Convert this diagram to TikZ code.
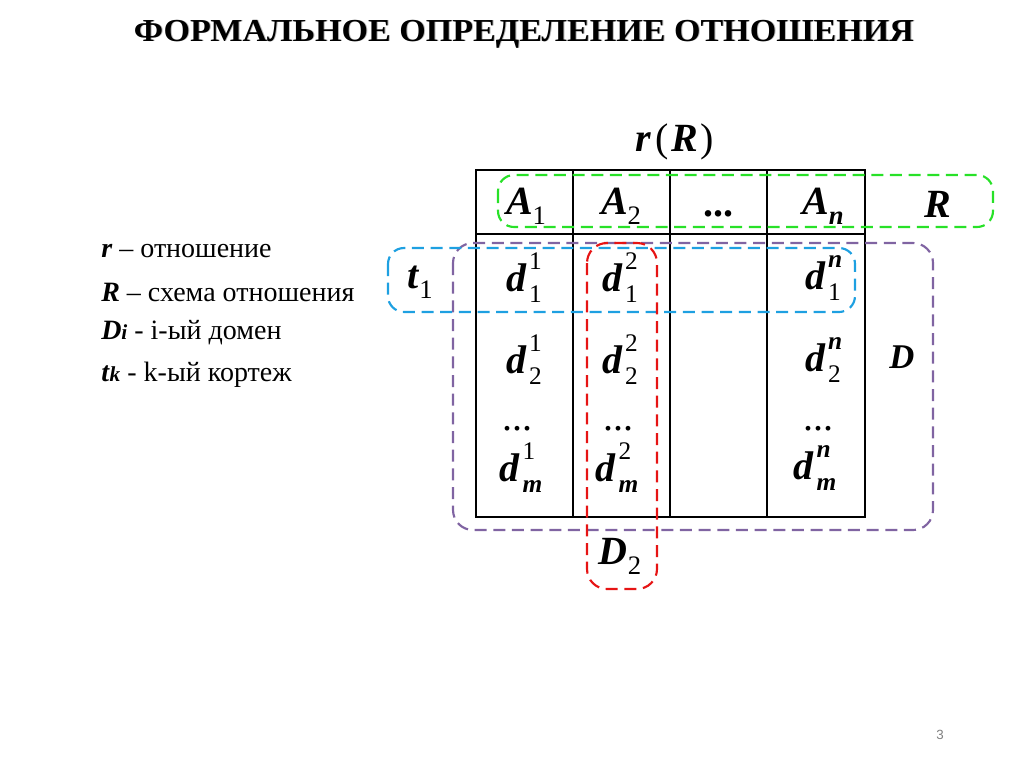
\documentclass[tikz,border=0pt]{standalone}
\usepackage{fontspec}
\setmainfont{Liberation Serif}
\newfontfamily\numfont{Liberation Sans}
\definecolor{grn}{RGB}{40,225,40}
\definecolor{blu}{RGB}{30,160,225}
\definecolor{pur}{RGB}{128,100,162}
\definecolor{rd}{RGB}{230,20,20}
\newcommand\bi[1]{\textbf{\textit{#1}}}
\newcommand\scrd{\fontsize{19}{22}\selectfont}
\newcommand\scra{\fontsize{20}{23}\selectfont}
\newcommand\ds[3]{\bi{#1}\kern0.06em\rlap{\raisebox{0.55em}{\scrd #2}}\raisebox{-0.27em}{\scrd #3}}
\newcommand\sub[2]{\bi{#1}\raisebox{-0.25em}{\scra #2}}
\begin{document}
\begin{tikzpicture}[x=0.75pt,y=-0.75pt,
  grid/.style={line width=1.6pt,black},
  dbox/.style={line width=1.6pt,dash pattern=on 9pt off 5pt,rounded corners=12pt},
  big/.style={font=\fontsize{30}{34}\selectfont,inner sep=0pt},
  lbl/.style={font=\fontsize{21}{25}\selectfont,anchor=west,inner sep=0pt}]
\useasboundingbox (0,0) rectangle (1024,767);
% title
\node[font=\fontsize{24}{28}\selectfont\bfseries,text=gray!55] at (525,34.8) {\scalebox{1.065}[1]{ФОРМАЛЬНОЕ ОПРЕДЕЛЕНИЕ ОТНОШЕНИЯ}};
\node[font=\fontsize{24}{28}\selectfont\bfseries] (title) at (524,34) {\scalebox{1.065}[1]{ФОРМАЛЬНОЕ ОПРЕДЕЛЕНИЕ ОТНОШЕНИЯ}};
% legend
\node[lbl] (l1) at (101,251) {\bi{r} – отношение};
\node[lbl] (l2) at (101,292) {\bi{R} – схема отношения};
\node[lbl] (l3) at (101,333) {\bi{D}{\fontsize{16}{18}\selectfont\bi{i}} - i-ый домен};
\node[lbl] (l4) at (101,375) {\bi{t}{\fontsize{16}{18}\selectfont\bi{k}} - k-ый кортеж};
% table
\draw[grid] (476,170) rectangle (865,517);
\draw[grid] (476,234) -- (865,234);
\draw[grid] (573,170) -- (573,517);
\draw[grid] (670,170) -- (670,517);
\draw[grid] (767,170) -- (767,517);
% header
\node[big] (rR) at (675,142) {\bi{r}\kern3pt(\kern2pt\bi{R}\kern2pt)};
\node[big] (A1) at (526,206) {\sub{A}{1}};
\node[big] (A2) at (621,206) {\sub{A}{2}};
\node[big] (Adots) at (718,214) {\bfseries ...};
\node[big] (An) at (823,206) {\sub{A}{\bi{n}}};
\node[big] (R) at (938,204) {\bi{R}};
% rows
\node[big] (t1) at (420,282) {\sub{t}{1}};
\node[big] (d11) at (524,278) {\ds{d}{1}{1}};
\node[big] (d21) at (620,278) {\ds{d}{2}{1}};
\node[big] (dn1) at (823,278) {\ds{d}{\bi{n}}{1}};
\node[big] (d12) at (524,360) {\ds{d}{1}{2}};
\node[big] (d22) at (620,360) {\ds{d}{2}{2}};
\node[big] (dn2) at (823,360) {\ds{d}{\bi{n}}{2}};
\node[big] (e1) at (517,429) {...};
\node[big] (e2) at (618,429) {...};
\node[big] (en) at (818,429) {...};
\node[big] (d1m) at (521,468) {\ds{d}{1}{\bi{m}}};
\node[big] (d2m) at (617,468) {\ds{d}{2}{\bi{m}}};
\node[big] (dnm) at (815,468) {\ds{d}{\bi{n}}{\bi{m}}};
\node[big,font=\fontsize{26}{30}\selectfont] (D) at (902,357) {\bi{D}};
\node[big] (D2) at (620,556) {\sub{D}{2}};
% dashed boxes
\draw[dbox,grn] (498,175) rectangle (993,227);
\draw[dbox,pur,rounded corners=15pt] (453,243) rectangle (933,530);
\draw[dbox,blu] (388,248) rectangle (855,312);
\draw[dbox,rd,rounded corners=15pt] (587,243) rectangle (657,589);
% page number
\node[font=\numfont\fontsize{10}{12}\selectfont,text=gray] (pg) at (940,735) {3};
\end{tikzpicture}
\end{document}
